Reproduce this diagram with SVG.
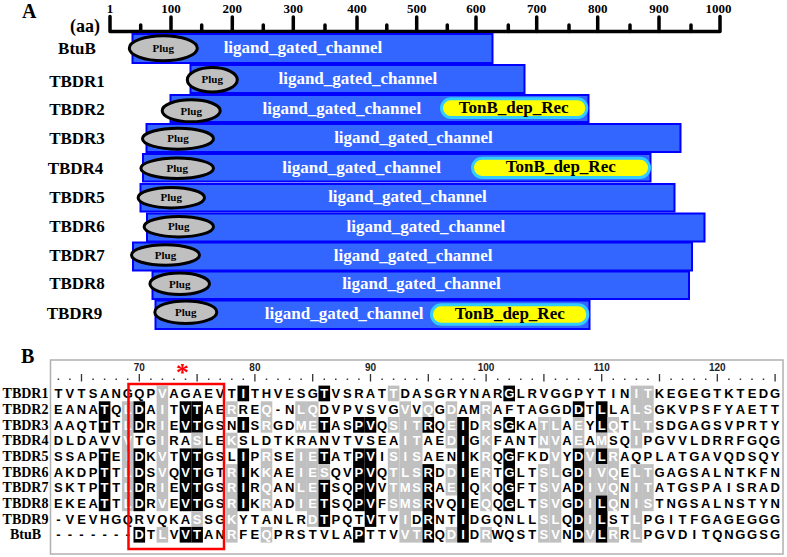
<svg xmlns="http://www.w3.org/2000/svg" width="787" height="557" viewBox="0 0 787 557">
<style>
.ttl{font-family:"Liberation Serif",serif;font-weight:bold;font-size:20px;fill:#000}
.ax{font-family:"Liberation Serif",serif;font-weight:bold;font-size:13px;fill:#000;text-anchor:middle}
.axl{fill:none;stroke:#000;stroke-width:3.5;stroke-linejoin:round;stroke-linecap:round}
.lbl{font-family:"Liberation Serif",serif;font-weight:bold;font-size:17px;fill:#000;text-anchor:middle}
.bar{fill:#3366ff;stroke:#0000ff;stroke-width:2}
.plug{fill:#c0c0c0;stroke:#000;stroke-width:3}
.plugt{font-family:"Liberation Serif",serif;font-weight:bold;font-size:11px;fill:#000;text-anchor:middle}
.chan{font-family:"Liberation Serif",serif;font-weight:bold;font-size:17px;fill:#fff;text-anchor:middle}
.tonb{fill:#ffff00;stroke:#33ccff;stroke-width:3}
.tonbt{font-family:"Liberation Serif",serif;font-weight:bold;font-size:17px;fill:#000;text-anchor:middle}
.blbl{font-family:"Liberation Serif",serif;font-weight:bold;font-size:14px;fill:#000;text-anchor:middle}
.aln{font-family:"Liberation Sans",Arial,sans-serif;font-weight:bold;font-size:13px;fill:#000;text-anchor:middle}
.num{font-family:"Liberation Sans",Arial,sans-serif;font-weight:bold;font-size:10px;fill:#222;text-anchor:middle}
.w{fill:#fff}
.k{fill:#000}
.g{fill:#c0c0c0}
</style>
<rect x="0" y="0" width="787" height="557" fill="#fff"/>

<g id="panelA">
<text class="ttl" x="22" y="18">A</text>
<g id="axis">
<path class="axl" d="M110 16.5V31.5H720V16.5"/>
<path class="axl" d="M171 17V31.5M232.3 17V31.5M293.3 17V31.5M357 17V31.5M416.7 17V31.5M476 17V31.5M536.7 17V31.5M597.7 17V31.5M659 17V31.5"/>
<path class="axl" d="M140.7 25V31.5M201.7 25V31.5M263.3 25V31.5M325 25V31.5M386.8 25V31.5M447.3 25V31.5M508.3 25V31.5M569 25V31.5M630 25V31.5M691 25V31.5"/>
<text class="ax" x="110" y="13">1</text>
<text class="ax" x="171" y="13">100</text>
<text class="ax" x="232.3" y="13">200</text>
<text class="ax" x="293.3" y="13">300</text>
<text class="ax" x="357" y="13">400</text>
<text class="ax" x="416.7" y="13">500</text>
<text class="ax" x="476" y="13">600</text>
<text class="ax" x="536.7" y="13">700</text>
<text class="ax" x="597.7" y="13">800</text>
<text class="ax" x="659" y="13">900</text>
<text class="ax" x="718.5" y="13">1000</text>
<text class="lbl" x="85" y="32" style="font-size:18px">(aa)</text>
</g>

<g id="BtuB">
<text class="lbl" x="77" y="54">BtuB</text>
<rect class="bar" x="132.5" y="34" width="360" height="29"/>
<ellipse class="plug" cx="163.3" cy="48.3" rx="34" ry="12.5"/>
<text class="plugt" x="163.3" y="52">Plug</text>
<text class="chan" x="303" y="53">ligand_gated_channel</text>
</g>
<g id="TBDR1">
<text class="lbl" x="77" y="87">TBDR1</text>
<rect class="bar" x="190.5" y="65" width="334" height="28"/>
<ellipse class="plug" cx="212.3" cy="79.7" rx="25" ry="12.2"/>
<text class="plugt" x="212.3" y="83.4">Plug</text>
<text class="chan" x="357.8" y="84">ligand_gated_channel</text>
</g>
<g id="TBDR2">
<text class="lbl" x="77" y="115">TBDR2</text>
<rect class="bar" x="170.5" y="95" width="418" height="27"/>
<ellipse class="plug" cx="191.2" cy="110.8" rx="29" ry="11"/>
<text class="plugt" x="191.2" y="114.5">Plug</text>
<text class="chan" x="341.8" y="113.5">ligand_gated_channel</text>
<rect class="tonb" x="441.5" y="98.8" width="145.3" height="18.7" rx="9.35"/>
<text class="tonbt" x="513.7" y="113">TonB_dep_Rec</text>
</g>
<g id="TBDR3">
<text class="lbl" x="77" y="144">TBDR3</text>
<rect class="bar" x="146.5" y="124" width="534" height="28"/>
<ellipse class="plug" cx="178" cy="138.7" rx="35.5" ry="10.5"/>
<text class="plugt" x="178" y="142.4">Plug</text>
<text class="chan" x="413.5" y="143">ligand_gated_channel</text>
</g>
<g id="TBDR4">
<text class="lbl" x="75.5" y="174">TBDR4</text>
<rect class="bar" x="143" y="154" width="507.5" height="27.5"/>
<ellipse class="plug" cx="177.2" cy="168.3" rx="36.3" ry="10.2"/>
<text class="plugt" x="177.2" y="172">Plug</text>
<text class="chan" x="361.7" y="172.5">ligand_gated_channel</text>
<rect class="tonb" x="472.5" y="158.2" width="177" height="19.3" rx="9.65"/>
<text class="tonbt" x="560.8" y="172">TonB_dep_Rec</text>
</g>
<g id="TBDR5">
<text class="lbl" x="77" y="203">TBDR5</text>
<rect class="bar" x="140.5" y="184" width="534" height="27.5"/>
<ellipse class="plug" cx="171.3" cy="197.7" rx="33.2" ry="10.2"/>
<text class="plugt" x="171.3" y="201.4">Plug</text>
<text class="chan" x="407.5" y="202">ligand_gated_channel</text>
</g>
<g id="TBDR6">
<text class="lbl" x="77" y="232">TBDR6</text>
<rect class="bar" x="147" y="213.5" width="557.5" height="28"/>
<ellipse class="plug" cx="178.8" cy="226.7" rx="34.7" ry="10.2"/>
<text class="plugt" x="178.8" y="230.4">Plug</text>
<text class="chan" x="425.8" y="231.5">ligand_gated_channel</text>
</g>
<g id="TBDR7">
<text class="lbl" x="77" y="260.5">TBDR7</text>
<rect class="bar" x="133" y="242.5" width="559" height="28"/>
<ellipse class="plug" cx="165.5" cy="255" rx="34" ry="10.2"/>
<text class="plugt" x="165.5" y="258.7">Plug</text>
<text class="chan" x="413.2" y="260.5">ligand_gated_channel</text>
</g>
<g id="TBDR8">
<text class="lbl" x="77" y="289">TBDR8</text>
<rect class="bar" x="152.5" y="271.5" width="536.5" height="27.5"/>
<ellipse class="plug" cx="179.7" cy="283.8" rx="29.8" ry="10.7"/>
<text class="plugt" x="179.7" y="287.5">Plug</text>
<text class="chan" x="421.5" y="289">ligand_gated_channel</text>
</g>
<g id="TBDR9">
<text class="lbl" x="74.5" y="319">TBDR9</text>
<rect class="bar" x="155.5" y="300.5" width="434" height="28.5"/>
<ellipse class="plug" cx="185.8" cy="312.2" rx="31" ry="11.3"/>
<text class="plugt" x="185.8" y="315.9">Plug</text>
<text class="chan" x="344.2" y="319">ligand_gated_channel</text>
<rect class="tonb" x="431.5" y="304.8" width="156.3" height="19.4" rx="9.7"/>
<text class="tonbt" x="509.8" y="318.5">TonB_dep_Rec</text>
</g>
</g>

<g id="panelB">
<text class="ttl" x="21" y="363">B</text>
<rect x="50.5" y="360" width="732.5" height="194" fill="none" stroke="#b0b0b0" stroke-width="1.5"/>
<g id="ruler">
<text class="num" x="139.3" y="370.5">70</text>
<text class="num" x="254.9" y="370.5">80</text>
<text class="num" x="370.5" y="370.5">90</text>
<text class="num" x="486.1" y="370.5">100</text>
<text class="num" x="601.7" y="370.5">110</text>
<text class="num" x="717.3" y="370.5">120</text>
<path d="M81.5 374V381.5M139.3 374V381.5M197.1 374V381.5M254.9 374V381.5M312.7 374V381.5M370.5 374V381.5M428.3 374V381.5M486.1 374V381.5M543.9 374V381.5M601.7 374V381.5M659.5 374V381.5M717.3 374V381.5M775.1 374V381.5" stroke="#333" stroke-width="1.3"/>
<path d="M58.4 379.3h1.5M69.9 379.3h1.5M93.1 379.3h1.5M104.6 379.3h1.5M116.2 379.3h1.5M127.7 379.3h1.5M150.9 379.3h1.5M162.4 379.3h1.5M174 379.3h1.5M185.5 379.3h1.5M208.7 379.3h1.5M220.2 379.3h1.5M231.8 379.3h1.5M243.3 379.3h1.5M266.5 379.3h1.5M278 379.3h1.5M289.6 379.3h1.5M301.1 379.3h1.5M324.3 379.3h1.5M335.8 379.3h1.5M347.4 379.3h1.5M358.9 379.3h1.5M382.1 379.3h1.5M393.6 379.3h1.5M405.2 379.3h1.5M416.7 379.3h1.5M439.9 379.3h1.5M451.4 379.3h1.5M463 379.3h1.5M474.5 379.3h1.5M497.7 379.3h1.5M509.2 379.3h1.5M520.8 379.3h1.5M532.3 379.3h1.5M555.5 379.3h1.5M567 379.3h1.5M578.6 379.3h1.5M590.1 379.3h1.5M613.3 379.3h1.5M624.8 379.3h1.5M636.4 379.3h1.5M647.9 379.3h1.5M671.1 379.3h1.5M682.6 379.3h1.5M694.2 379.3h1.5M705.7 379.3h1.5M728.9 379.3h1.5M740.4 379.3h1.5M752 379.3h1.5M763.5 379.3h1.5" stroke="#333" stroke-width="1.5" transform="translate(-0.75 0)"/>
</g>
<g id="shading">
<rect class="k" x="98.8" y="401.3" width="11.6" height="31.4"/><rect class="k" x="98.8" y="448.4" width="11.6" height="62.8"/>
<rect class="g" x="121.9" y="401.3" width="11.6" height="109.9"/>
<rect class="k" x="133.5" y="401.3" width="11.6" height="31.4"/><rect class="k" x="133.5" y="448.4" width="11.6" height="62.8"/><rect class="k" x="133.5" y="526.9" width="11.6" height="15.7"/>
<rect class="g" x="156.6" y="385.6" width="11.6" height="125.6"/><rect class="g" x="156.6" y="526.9" width="11.6" height="15.7"/>
<rect class="k" x="179.7" y="401.3" width="11.6" height="31.4"/><rect class="k" x="179.7" y="448.4" width="11.6" height="62.8"/><rect class="k" x="179.7" y="526.9" width="11.6" height="15.7"/>
<rect class="k" x="191.3" y="401.3" width="11.6" height="31.4"/><rect class="g" x="191.3" y="432.7" width="11.6" height="15.7"/><rect class="k" x="191.3" y="448.4" width="11.6" height="62.8"/><rect class="g" x="191.3" y="511.2" width="11.6" height="15.7"/><rect class="k" x="191.3" y="526.9" width="11.6" height="15.7"/>
<rect class="g" x="226" y="401.3" width="11.6" height="15.7"/><rect class="g" x="226" y="432.7" width="11.6" height="15.7"/><rect class="g" x="226" y="464.1" width="11.6" height="78.5"/>
<rect class="k" x="237.5" y="385.6" width="11.6" height="15.7"/><rect class="k" x="237.5" y="417" width="11.6" height="15.7"/><rect class="k" x="237.5" y="448.4" width="11.6" height="62.8"/>
<rect class="g" x="260.7" y="401.3" width="11.6" height="31.4"/><rect class="g" x="260.7" y="448.4" width="11.6" height="62.8"/><rect class="g" x="260.7" y="526.9" width="11.6" height="15.7"/>
<rect class="g" x="295.3" y="401.3" width="11.6" height="31.4"/><rect class="g" x="295.3" y="448.4" width="11.6" height="62.8"/>
<rect class="g" x="306.9" y="401.3" width="11.6" height="31.4"/><rect class="g" x="306.9" y="448.4" width="11.6" height="78.5"/>
<rect class="k" x="318.5" y="385.6" width="11.6" height="15.7"/><rect class="k" x="318.5" y="417" width="11.6" height="15.7"/><rect class="k" x="318.5" y="448.4" width="11.6" height="15.7"/><rect class="g" x="318.5" y="464.1" width="11.6" height="15.7"/><rect class="k" x="318.5" y="479.8" width="11.6" height="47.1"/>
<rect class="k" x="353.1" y="417" width="11.6" height="15.7"/><rect class="k" x="353.1" y="448.4" width="11.6" height="62.8"/><rect class="k" x="353.1" y="526.9" width="11.6" height="15.7"/>
<rect class="k" x="364.7" y="417" width="11.6" height="15.7"/><rect class="k" x="364.7" y="448.4" width="11.6" height="78.5"/>
<rect class="g" x="387.8" y="385.6" width="11.6" height="15.7"/><rect class="g" x="387.8" y="417" width="11.6" height="15.7"/><rect class="g" x="387.8" y="448.4" width="11.6" height="62.8"/>
<rect class="g" x="399.4" y="401.3" width="11.6" height="141.3"/>
<rect class="g" x="410.9" y="417" width="11.6" height="94.2"/><rect class="g" x="410.9" y="526.9" width="11.6" height="15.7"/>
<rect class="g" x="422.5" y="401.3" width="11.6" height="15.7"/><rect class="k" x="422.5" y="417" width="11.6" height="15.7"/><rect class="k" x="422.5" y="464.1" width="11.6" height="78.5"/>
<rect class="g" x="445.6" y="401.3" width="11.6" height="47.1"/><rect class="g" x="445.6" y="464.1" width="11.6" height="31.4"/><rect class="g" x="445.6" y="526.9" width="11.6" height="15.7"/>
<rect class="k" x="457.2" y="417" width="11.6" height="125.6"/>
<rect class="g" x="480.3" y="401.3" width="11.6" height="109.9"/><rect class="g" x="480.3" y="526.9" width="11.6" height="15.7"/>
<rect class="k" x="503.4" y="385.6" width="11.6" height="15.7"/><rect class="k" x="503.4" y="417" width="11.6" height="15.7"/><rect class="k" x="503.4" y="448.4" width="11.6" height="62.8"/>
<rect class="g" x="538.1" y="417" width="11.6" height="31.4"/><rect class="g" x="538.1" y="464.1" width="11.6" height="78.5"/>
<rect class="g" x="549.7" y="417" width="11.6" height="125.6"/>
<rect class="k" x="572.8" y="401.3" width="11.6" height="15.7"/><rect class="g" x="572.8" y="417" width="11.6" height="31.4"/><rect class="k" x="572.8" y="448.4" width="11.6" height="94.2"/>
<rect class="g" x="584.3" y="448.4" width="11.6" height="94.2"/>
<rect class="k" x="595.9" y="401.3" width="11.6" height="31.4"/><rect class="g" x="595.9" y="432.7" width="11.6" height="15.7"/><rect class="k" x="595.9" y="448.4" width="11.6" height="15.7"/><rect class="g" x="595.9" y="464.1" width="11.6" height="31.4"/><rect class="k" x="595.9" y="495.5" width="11.6" height="47.1"/>
<rect class="g" x="607.5" y="417" width="11.6" height="15.7"/><rect class="g" x="607.5" y="448.4" width="11.6" height="62.8"/><rect class="g" x="607.5" y="526.9" width="11.6" height="15.7"/>
<rect class="g" x="630.6" y="385.6" width="11.6" height="62.8"/><rect class="g" x="630.6" y="464.1" width="11.6" height="78.5"/>
<rect class="g" x="642.1" y="385.6" width="11.6" height="47.1"/><rect class="g" x="642.1" y="464.1" width="11.6" height="47.1"/>
</g>
<g id="names">
<text class="blbl" x="25.5" y="398.1">TBDR1</text>
<text class="blbl" x="25.5" y="413.8">TBDR2</text>
<text class="blbl" x="25.5" y="429.5">TBDR3</text>
<text class="blbl" x="25.5" y="445.2">TBDR4</text>
<text class="blbl" x="25.5" y="460.9">TBDR5</text>
<text class="blbl" x="25.5" y="476.6">TBDR6</text>
<text class="blbl" x="25.5" y="492.3">TBDR7</text>
<text class="blbl" x="25.5" y="508">TBDR8</text>
<text class="blbl" x="25.5" y="523.7">TBDR9</text>
<text class="blbl" x="25.5" y="539.4">BtuB</text>
</g>
<g id="sequences">
<text class="aln" y="398.1" x="58.4 69.9 81.5 93.1 104.6 116.2 127.7 139.3 150.9 162.4 174 185.5 197.1 208.7 220.2 231.8 243.3 254.9 266.5 278 289.6 301.1 312.7 324.3 335.8 347.4 358.9 370.5 382.1 393.6 405.2 416.7 428.3 439.9 451.4 463 474.5 486.1 497.7 509.2 520.8 532.3 543.9 555.5 567 578.6 590.1 601.7 613.3 624.8 636.4 647.9 659.5 671.1 682.6 694.2 705.7 717.3 728.9 740.4 752 763.5 775.1">TVTSANGQP<tspan class="w">V</tspan>AGAEVT<tspan class="w">I</tspan>THVESG<tspan class="w">T</tspan>VSRAT<tspan class="w">T</tspan>DASGRYNAR<tspan class="w">G</tspan>LRVGGPYTIN<tspan class="w">IT</tspan>KEGEGTKTEDG</text>
<text class="aln" y="413.8" x="58.4 69.9 81.5 93.1 104.6 116.2 127.7 139.3 150.9 162.4 174 185.5 197.1 208.7 220.2 231.8 243.3 254.9 266.5 278 289.6 301.1 312.7 324.3 335.8 347.4 358.9 370.5 382.1 393.6 405.2 416.7 428.3 439.9 451.4 463 474.5 486.1 497.7 509.2 520.8 532.3 543.9 555.5 567 578.6 590.1 601.7 613.3 624.8 636.4 647.9 659.5 671.1 682.6 694.2 705.7 717.3 728.9 740.4 752 763.5 775.1">EANA<tspan class="w">T</tspan>Q<tspan class="w">LD</tspan>A<tspan class="w">I</tspan>T<tspan class="w">VT</tspan>AE<tspan class="w">R</tspan>RE<tspan class="w">Q</tspan>-N<tspan class="w">LQ</tspan>DVPVSVG<tspan class="w">V</tspan>V<tspan class="w">Q</tspan>G<tspan class="w">D</tspan>AM<tspan class="w">R</tspan>AFTAGGD<tspan class="w">D</tspan>T<tspan class="w">L</tspan>LA<tspan class="w">LS</tspan>GKVPSFYAETT</text>
<text class="aln" y="429.5" x="58.4 69.9 81.5 93.1 104.6 116.2 127.7 139.3 150.9 162.4 174 185.5 197.1 208.7 220.2 231.8 243.3 254.9 266.5 278 289.6 301.1 312.7 324.3 335.8 347.4 358.9 370.5 382.1 393.6 405.2 416.7 428.3 439.9 451.4 463 474.5 486.1 497.7 509.2 520.8 532.3 543.9 555.5 567 578.6 590.1 601.7 613.3 624.8 636.4 647.9 659.5 671.1 682.6 694.2 705.7 717.3 728.9 740.4 752 763.5 775.1">AAQT<tspan class="w">T</tspan>T<tspan class="w">LD</tspan>R<tspan class="w">I</tspan>E<tspan class="w">VT</tspan>GSN<tspan class="w">I</tspan>S<tspan class="w">R</tspan>GD<tspan class="w">MET</tspan>AS<tspan class="w">PV</tspan>Q<tspan class="w">SITR</tspan>Q<tspan class="w">EI</tspan>D<tspan class="w">R</tspan>S<tspan class="w">G</tspan>KA<tspan class="w">TL</tspan>A<tspan class="w">E</tspan>Y<tspan class="w">LQ</tspan>T<tspan class="w">LT</tspan>SDGAGSVPRTY</text>
<text class="aln" y="445.2" x="58.4 69.9 81.5 93.1 104.6 116.2 127.7 139.3 150.9 162.4 174 185.5 197.1 208.7 220.2 231.8 243.3 254.9 266.5 278 289.6 301.1 312.7 324.3 335.8 347.4 358.9 370.5 382.1 393.6 405.2 416.7 428.3 439.9 451.4 463 474.5 486.1 497.7 509.2 520.8 532.3 543.9 555.5 567 578.6 590.1 601.7 613.3 624.8 636.4 647.9 659.5 671.1 682.6 694.2 705.7 717.3 728.9 740.4 752 763.5 775.1">DLDAVV<tspan class="w">V</tspan>TG<tspan class="w">I</tspan>RA<tspan class="w">S</tspan>LE<tspan class="w">K</tspan>SLDTKRANVTVSEA<tspan class="w">IT</tspan>AE<tspan class="w">DI</tspan>G<tspan class="w">K</tspan>FANT<tspan class="w">NV</tspan>A<tspan class="w">E</tspan>A<tspan class="w">M</tspan>SQ<tspan class="w">I</tspan>PGVVLDRRFGQG</text>
<text class="aln" y="460.9" x="58.4 69.9 81.5 93.1 104.6 116.2 127.7 139.3 150.9 162.4 174 185.5 197.1 208.7 220.2 231.8 243.3 254.9 266.5 278 289.6 301.1 312.7 324.3 335.8 347.4 358.9 370.5 382.1 393.6 405.2 416.7 428.3 439.9 451.4 463 474.5 486.1 497.7 509.2 520.8 532.3 543.9 555.5 567 578.6 590.1 601.7 613.3 624.8 636.4 647.9 659.5 671.1 682.6 694.2 705.7 717.3 728.9 740.4 752 763.5 775.1">SSAP<tspan class="w">T</tspan>E<tspan class="w">ID</tspan>K<tspan class="w">V</tspan>T<tspan class="w">VT</tspan>GSL<tspan class="w">I</tspan>P<tspan class="w">R</tspan>SE<tspan class="w">IET</tspan>AT<tspan class="w">PV</tspan>I<tspan class="w">SIS</tspan>AEN<tspan class="w">I</tspan>K<tspan class="w">R</tspan>Q<tspan class="w">G</tspan>FKD<tspan class="w">V</tspan>Y<tspan class="w">DVLR</tspan>AQPLATGAVQDSQY</text>
<text class="aln" y="476.6" x="58.4 69.9 81.5 93.1 104.6 116.2 127.7 139.3 150.9 162.4 174 185.5 197.1 208.7 220.2 231.8 243.3 254.9 266.5 278 289.6 301.1 312.7 324.3 335.8 347.4 358.9 370.5 382.1 393.6 405.2 416.7 428.3 439.9 451.4 463 474.5 486.1 497.7 509.2 520.8 532.3 543.9 555.5 567 578.6 590.1 601.7 613.3 624.8 636.4 647.9 659.5 671.1 682.6 694.2 705.7 717.3 728.9 740.4 752 763.5 775.1">AKDP<tspan class="w">T</tspan>T<tspan class="w">LD</tspan>S<tspan class="w">V</tspan>Q<tspan class="w">VT</tspan>GT<tspan class="w">RI</tspan>K<tspan class="w">K</tspan>AE<tspan class="w">IES</tspan>QV<tspan class="w">PV</tspan>Q<tspan class="w">TLSR</tspan>D<tspan class="w">DI</tspan>E<tspan class="w">R</tspan>T<tspan class="w">G</tspan>LT<tspan class="w">SL</tspan>G<tspan class="w">DIVQ</tspan>E<tspan class="w">LT</tspan>GAGSALNTKFN</text>
<text class="aln" y="492.3" x="58.4 69.9 81.5 93.1 104.6 116.2 127.7 139.3 150.9 162.4 174 185.5 197.1 208.7 220.2 231.8 243.3 254.9 266.5 278 289.6 301.1 312.7 324.3 335.8 347.4 358.9 370.5 382.1 393.6 405.2 416.7 428.3 439.9 451.4 463 474.5 486.1 497.7 509.2 520.8 532.3 543.9 555.5 567 578.6 590.1 601.7 613.3 624.8 636.4 647.9 659.5 671.1 682.6 694.2 705.7 717.3 728.9 740.4 752 763.5 775.1">SKTP<tspan class="w">T</tspan>T<tspan class="w">LD</tspan>R<tspan class="w">I</tspan>E<tspan class="w">VT</tspan>GS<tspan class="w">RI</tspan>R<tspan class="w">Q</tspan>AN<tspan class="w">LET</tspan>SQ<tspan class="w">PV</tspan>V<tspan class="w">TMSR</tspan>A<tspan class="w">EI</tspan>Q<tspan class="w">K</tspan>Q<tspan class="w">G</tspan>FT<tspan class="w">SV</tspan>A<tspan class="w">DIVQ</tspan>N<tspan class="w">IT</tspan>ATGSPAISRAD</text>
<text class="aln" y="508" x="58.4 69.9 81.5 93.1 104.6 116.2 127.7 139.3 150.9 162.4 174 185.5 197.1 208.7 220.2 231.8 243.3 254.9 266.5 278 289.6 301.1 312.7 324.3 335.8 347.4 358.9 370.5 382.1 393.6 405.2 416.7 428.3 439.9 451.4 463 474.5 486.1 497.7 509.2 520.8 532.3 543.9 555.5 567 578.6 590.1 601.7 613.3 624.8 636.4 647.9 659.5 671.1 682.6 694.2 705.7 717.3 728.9 740.4 752 763.5 775.1">EKEA<tspan class="w">T</tspan>T<tspan class="w">LD</tspan>R<tspan class="w">V</tspan>E<tspan class="w">VT</tspan>GS<tspan class="w">RI</tspan>K<tspan class="w">R</tspan>AD<tspan class="w">IET</tspan>SQ<tspan class="w">PV</tspan>F<tspan class="w">SMSR</tspan>VQ<tspan class="w">I</tspan>E<tspan class="w">Q</tspan>Q<tspan class="w">G</tspan>LT<tspan class="w">SV</tspan>G<tspan class="w">DILQ</tspan>N<tspan class="w">IS</tspan>TNGSALNSTYN</text>
<text class="aln" y="523.7" x="58.4 69.9 81.5 93.1 104.6 116.2 127.7 139.3 150.9 162.4 174 185.5 197.1 208.7 220.2 231.8 243.3 254.9 266.5 278 289.6 301.1 312.7 324.3 335.8 347.4 358.9 370.5 382.1 393.6 405.2 416.7 428.3 439.9 451.4 463 474.5 486.1 497.7 509.2 520.8 532.3 543.9 555.5 567 578.6 590.1 601.7 613.3 624.8 636.4 647.9 659.5 671.1 682.6 694.2 705.7 717.3 728.9 740.4 752 763.5 775.1">-VEVHGQRVQKA<tspan class="w">S</tspan>SG<tspan class="w">K</tspan>YTANLR<tspan class="w">DT</tspan>PQT<tspan class="w">V</tspan>TV<tspan class="w">I</tspan>D<tspan class="w">R</tspan>NT<tspan class="w">I</tspan>DGQNLL<tspan class="w">SL</tspan>Q<tspan class="w">DIL</tspan>ST<tspan class="w">L</tspan>PGITFGAGEGGG</text>
<text class="aln" y="539.4" x="58.4 69.9 81.5 93.1 104.6 116.2 127.7 139.3 150.9 162.4 174 185.5 197.1 208.7 220.2 231.8 243.3 254.9 266.5 278 289.6 301.1 312.7 324.3 335.8 347.4 358.9 370.5 382.1 393.6 405.2 416.7 428.3 439.9 451.4 463 474.5 486.1 497.7 509.2 520.8 532.3 543.9 555.5 567 578.6 590.1 601.7 613.3 624.8 636.4 647.9 659.5 671.1 682.6 694.2 705.7 717.3 728.9 740.4 752 763.5 775.1">-------<tspan class="w">D</tspan>T<tspan class="w">L</tspan>V<tspan class="w">VT</tspan>AN<tspan class="w">R</tspan>FE<tspan class="w">Q</tspan>PRSTVLA<tspan class="w">P</tspan>TTV<tspan class="w">VTR</tspan>Q<tspan class="w">DI</tspan>D<tspan class="w">R</tspan>WQST<tspan class="w">SV</tspan>N<tspan class="w">DVLR</tspan>R<tspan class="w">L</tspan>PGVDITQNGGSG</text>
</g>
<g id="highlight">
<rect x="128.5" y="384" width="95.5" height="165" fill="none" stroke="#ff0000" stroke-width="2.5"/>
<text x="182.5" y="380.5" style="font-family:'Liberation Serif',serif;font-weight:bold;font-size:26px;fill:#ff0000;text-anchor:middle">*</text>
</g>
</g>
</svg>
